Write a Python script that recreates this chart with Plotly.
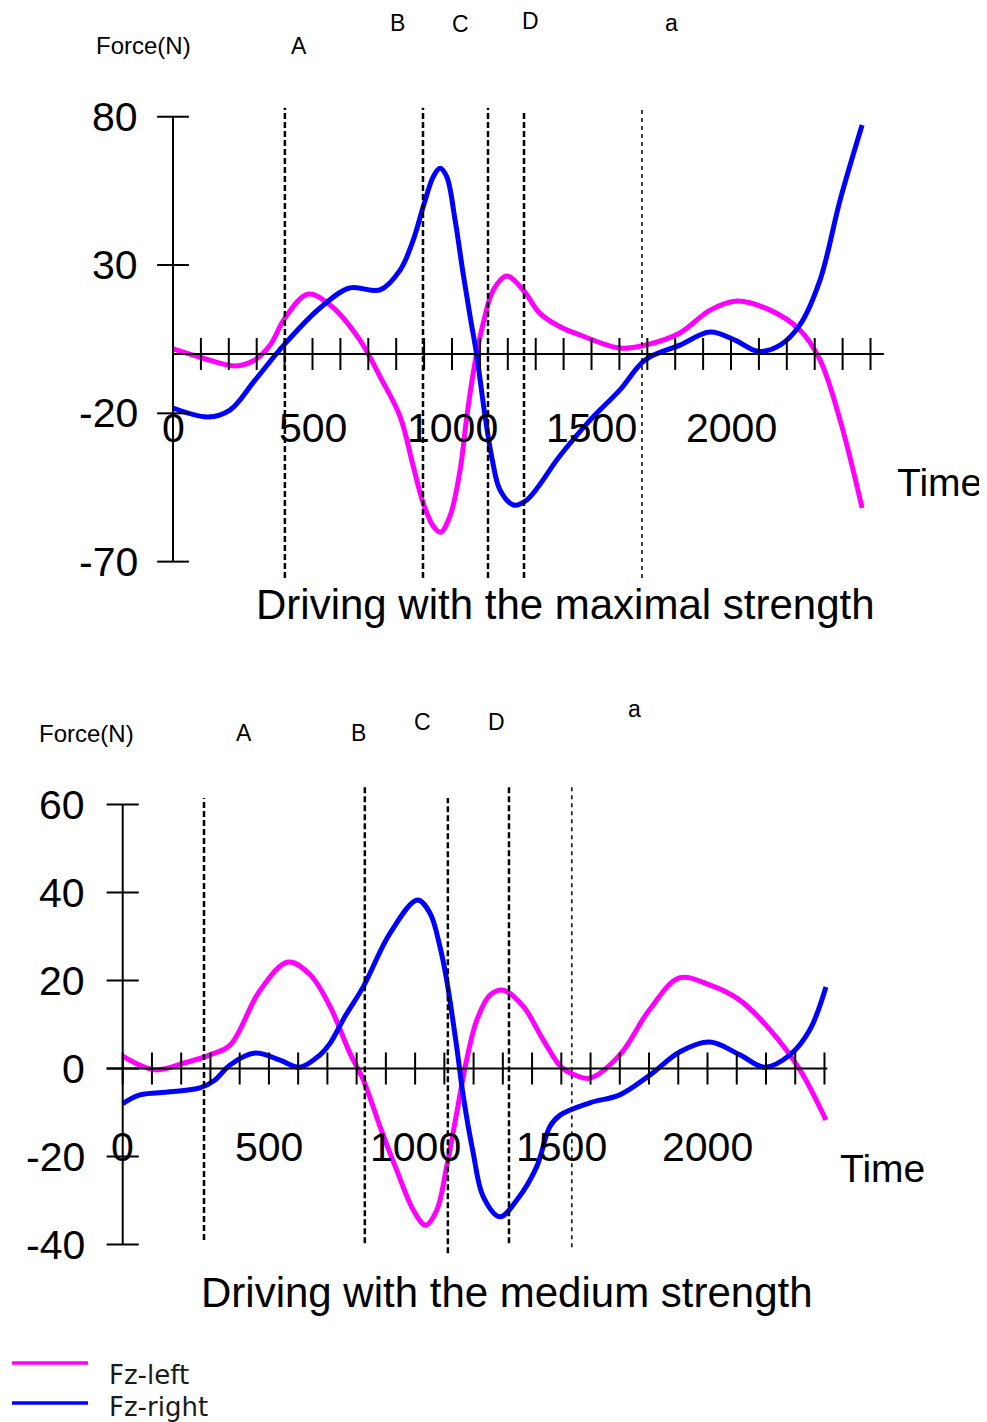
import plotly.graph_objects as go

# ---------------- data ----------------
# Panel 1: driving with the maximal strength
max_left_t = [0, 97, 222, 294, 348, 401, 484, 563, 670, 742, 814, 861, 897, 933, 959, 993, 1029, 1053, 1082, 1112,
              1148, 1196, 1255, 1315, 1387, 1459, 1602, 1692, 1817, 1925, 2022, 2140, 2247, 2319, 2391, 2470]
max_left_f = [1.7, -1.1, -4.0, -2.0, 3.0, 12.1, 20.2, 16.5, 4.7, -7.6, -21.1, -37.8, -50.3, -58.1, -60.1, -54.6, -39.1, -21.1, -3.1, 10.4,
              21.6, 26.3, 21.6, 13.7, 9.2, 6.4, 2.0, 3.0, 7.1, 14.8, 17.9, 14.8, 8.1, -2.0, -22.3, -51.9]
max_right_t = [0, 125, 204, 294, 401, 527, 634, 742, 814, 861, 897, 933, 957, 981, 1011, 1040, 1065, 1088, 1118, 1145,
               1172, 1220, 1268, 1387, 1495, 1602, 1692, 1817, 1925, 2014, 2097, 2176, 2247, 2319, 2391, 2470]
max_right_f = [-18.2, -21.2, -18.9, -8.8, 3.4, 15.5, 22.3, 21.6, 28.3, 38.4, 49.7, 59.8, 62.6, 59.8, 45.2, 27.0, 12.6, 0.0, -20.6, -36.0,
               -45.8, -50.9, -49.2, -34.3, -22.3, -12.1, -2.0, 3.0, 7.4, 4.7, 0.9, 3.0, 9.8, 24.9, 51.9, 77.2]

# Panel 2: driving with the medium strength
med_left_t = [0, 110, 213, 299, 367, 470, 566, 641, 709, 777, 823, 880, 937, 994, 1036, 1074, 1108, 1142, 1176, 1211,
              1256, 1302, 1370, 1438, 1500, 1547, 1598, 1700, 1801, 1904, 2007, 2109, 2214, 2316, 2405]
med_left_f = [2.8, -0.3, 1.3, 3.1, 5.3, 17.8, 24.2, 21.3, 14.1, 3.5, -2.6, -13.2, -23.1, -32.2, -35.6, -32.2, -22.3, -10.2, 1.9, 11.0,
              16.7, 17.8, 14.1, 6.5, 0.3, -1.5, -2.2, 3.1, 13.3, 20.6, 19.0, 15.6, 8.8, -0.3, -11.7]
med_right_t = [0, 59, 162, 264, 316, 367, 453, 538, 606, 675, 709, 760, 823, 914, 1008, 1051, 1085, 1108, 1142, 1165,
               1199, 1233, 1290, 1348, 1416, 1461, 1496, 1598, 1700, 1803, 1906, 2008, 2111, 2196, 2282, 2350, 2405]
med_right_f = [-8.0, -6.0, -5.3, -4.4, -2.6, 0.8, 3.5, 1.9, 0.3, 3.1, 5.7, 11.8, 18.6, 30.7, 38.3, 35.3, 27.7, 20.1, 5.0, -6.4,
               -19.3, -29.1, -33.7, -29.9, -22.3, -13.2, -10.6, -7.8, -6.0, -1.5, 3.8, 6.0, 3.1, 0.3, 3.1, 8.8, 18.5]

# phase markers
phase_labels = ["A", "B", "C", "D", "a"]
max_phase_t = [401, 896, 1129, 1258, 1681]
med_phase_t = [278, 828, 1112, 1321, 1536]

# tick labels
x_tick_vals = [0, 500, 1000, 1500, 2000]
max_y_ticks = [80, 30, -20, -70]
med_y_ticks = [60, 40, 20, 0, -20, -40]
max_minor_x = list(range(0, 2501, 100))
med_minor_x = list(range(0, 2401, 100))

series_names = ["Fz-left", "Fz-right"]
series_colors = ["#ff00ff", "#0000ff"]

titles = ["Driving with the maximal strength", "Driving with the medium strength"]

# ---------------- figure ----------------
W, H = 987, 1422
OFF = 8  # page body margin
fig = go.Figure()

LW = 5
fig.add_trace(go.Scatter(x=max_left_t, y=max_left_f, mode="lines", line=dict(color=series_colors[0], width=LW, shape="spline"),
                         name=series_names[0], xaxis="x", yaxis="y", showlegend=False))
fig.add_trace(go.Scatter(x=max_right_t, y=max_right_f, mode="lines", line=dict(color=series_colors[1], width=LW, shape="spline"),
                         name=series_names[1], xaxis="x", yaxis="y", showlegend=False))
fig.add_trace(go.Scatter(x=med_left_t, y=med_left_f, mode="lines", line=dict(color=series_colors[0], width=LW, shape="spline"),
                         name=series_names[0], xaxis="x2", yaxis="y2", showlegend=False))
fig.add_trace(go.Scatter(x=med_right_t, y=med_right_f, mode="lines", line=dict(color=series_colors[1], width=LW, shape="spline"),
                         name=series_names[1], xaxis="x2", yaxis="y2", showlegend=False))

shapes = []
annotations = []
BIG = dict(family="Liberation Sans, Arial, sans-serif", size=41, color="black")
SMALL = dict(family="Liberation Sans, Arial, sans-serif", size=24, color="black")

def panel(xr, yr, yticks, minor_x, x_end, x_start, tick_dx, tick_dy, y_min, y_max,
          phase_t, phase_y, label_pos, force_pos, ylab_x, xlab_y, title, title_pos, time_pos):
    shapes.append(dict(type="line", xref=xr, yref=yr, x0=0, x1=0, y0=y_min, y1=y_max,
                       line=dict(color="black", width=2)))
    shapes.append(dict(type="line", xref=xr, yref=yr, x0=x_start, x1=x_end, y0=0, y1=0,
                       line=dict(color="black", width=2)))
    for t in minor_x:
        shapes.append(dict(type="line", xref=xr, yref=yr, x0=t, x1=t, y0=-tick_dy, y1=tick_dy,
                           line=dict(color="black", width=2)))
    for v in yticks:
        shapes.append(dict(type="line", xref=xr, yref=yr, x0=-tick_dx, x1=tick_dx, y0=v, y1=v,
                           line=dict(color="black", width=2)))
        annotations.append(dict(xref=xr, yref=yr, x=ylab_x, y=v, text=str(v), showarrow=False,
                                xanchor="right", yanchor="middle", font=BIG))
    for v in x_tick_vals:
        annotations.append(dict(xref=xr, yref=yr, x=v, y=xlab_y, text=str(v), showarrow=False,
                                xanchor="center", yanchor="middle", font=BIG))
    for i, (lab, t) in enumerate(zip(phase_labels, phase_t)):
        y0, y1 = phase_y[i]
        thin = lab == "a"
        shapes.append(dict(type="line", xref=xr, yref=yr, x0=t, x1=t, y0=y0, y1=y1,
                           line=dict(color="black", width=1.5 if thin else 2.5,
                                     dash="4px,4px" if thin else "6px,3px")))
        lx, ly = label_pos[i]
        annotations.append(dict(xref=xr, yref=yr, x=lx, y=ly, text=lab, showarrow=False,
                                xanchor="center", yanchor="middle", font=dict(SMALL, size=23)))
    annotations.append(dict(xref=xr, yref=yr, x=force_pos[0], y=force_pos[1], text="Force(N)", showarrow=False,
                            xanchor="center", yanchor="middle", font=SMALL))
    annotations.append(dict(xref=xr, yref=yr, x=title_pos[0], y=title_pos[1], text=title, showarrow=False,
                            xanchor="center", yanchor="middle", font=dict(BIG, size=42)))
    annotations.append(dict(xref=xr, yref=yr, x=time_pos[0], y=time_pos[1], text="Time", showarrow=False,
                            xanchor="center", yanchor="middle", font=dict(BIG, size=39)))

# panel 1
panel("x", "y", max_y_ticks, max_minor_x, x_end=2548, x_start=0, tick_dx=57, tick_dy=5.4,
      y_min=-70, y_max=80, phase_t=max_phase_t,
      phase_y=[(-75.5, 83), (-75.5, 83), (-75.5, 83), (-75.5, 81.6), (-75.5, 83)],
      label_pos=[(452, 104), (803, 111.6), (1032, 111.3), (1283, 112.3), (1785, 111.6)],
      force_pos=(-107, 104), ylab_x=-118, xlab_y=-24.9, title=titles[0], title_pos=(1405, -84.6),
      time_pos=(2749, -43.2))
# panel 2
panel("x2", "y2", med_y_ticks, med_minor_x, x_end=2410, x_start=-55, tick_dx=55, tick_dy=3.64,
      y_min=-40, y_max=60, phase_t=med_phase_t,
      phase_y=[(-39, 61.5), (-39.7, 64), (-42, 61.5), (-39.7, 64), (-40.6, 64)],
      label_pos=[(415, 76.25), (805, 76.25), (1024, 78.75), (1277, 78.75), (1749, 81.6)],
      force_pos=(-125.5, 76.25), ylab_x=-122, xlab_y=-17.8, title=titles[1], title_pos=(1314, -50.8),
      time_pos=(2597, -22.8))

# legend (drawn)
leg_y_lines = [1363, 1403]
leg_y_text = [1375, 1407]
for i in range(2):
    yl = 1 - (leg_y_lines[i] - OFF) / H
    shapes.append(dict(type="line", xref="paper", yref="paper", x0=(12 - OFF) / W, x1=(88 - OFF) / W,
                       y0=yl, y1=yl, line=dict(color=series_colors[i], width=3.5)))
    annotations.append(dict(xref="paper", yref="paper", x=(107 - OFF) / W, y=1 - (leg_y_text[i] - OFF) / H,
                            text=series_names[i], showarrow=False, xanchor="left", yanchor="middle",
                            font=dict(family="DejaVu Sans, Verdana, sans-serif", size=26, color="#1a1a1a")))

axis_common = dict(showgrid=False, zeroline=False, showticklabels=False, ticks="", showline=False, fixedrange=True)
fig.update_layout(
    width=W, height=H,
    margin=dict(l=0, r=0, t=0, b=0, pad=0),
    paper_bgcolor="white", plot_bgcolor="rgba(0,0,0,0)",
    showlegend=False,
    xaxis=dict(axis_common, domain=[0, 1], range=[-591.4, 2946.2]),
    yaxis=dict(axis_common, domain=[0.45, 1], range=[-147.03, 116.66]),
    xaxis2=dict(axis_common, domain=[0, 1], range=[-392.3, 2983.2], anchor="y2"),
    yaxis2=dict(axis_common, domain=[0, 0.55], range=[-82.16, 95.59], anchor="x2"),
    shapes=shapes, annotations=annotations,
)

fig.write_html("out.html")
